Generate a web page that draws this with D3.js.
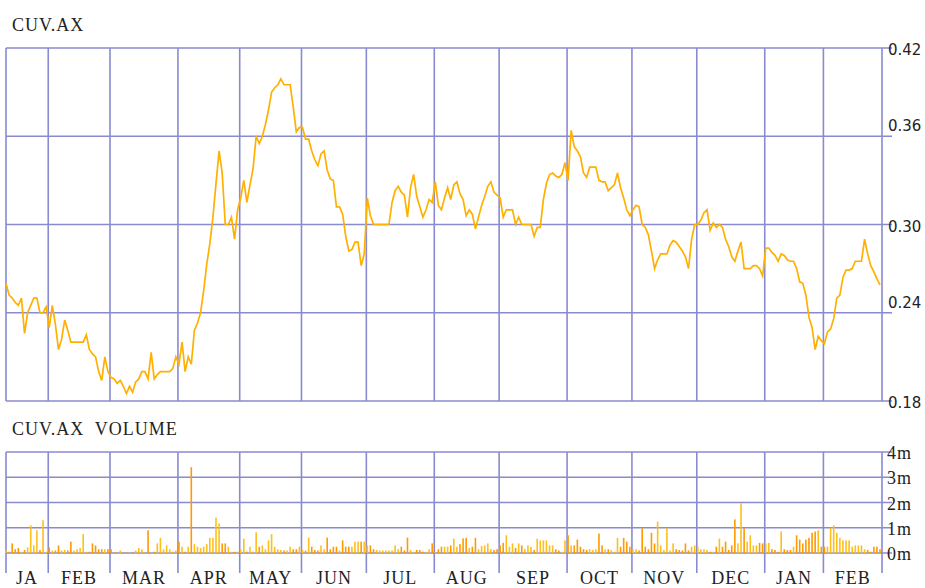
<!DOCTYPE html>
<html>
<head>
<meta charset="utf-8">
<script src="https://cdn.jsdelivr.net/npm/d3@7/dist/d3.min.js"></script>
<style>
body { margin: 0; background: #fff; }
</style>
</head>
<body>
<div id="chart"></div>
<script>
// Chart titles
var priceTitle = "CUV.AX";
var volumeTitle = "CUV.AX  VOLUME";

// Month labels along the bottom and the number of trading days in each
var monthLabels = ["JA", "FEB", "MAR", "APR", "MAY", "JUN", "JUL", "AUG", "SEP", "OCT", "NOV", "DEC", "JAN", "FEB"];
var monthDays = [14, 20, 22, 20, 20, 21, 22, 21, 22, 21, 21, 22, 19, 19];

// Right hand axis ticks
var priceTicks = [0.42, 0.36, 0.30, 0.24, 0.18];
var volumeTicks = [4, 3, 2, 1, 0];

// Daily close
var prices = [
  0.26, 0.252, 0.25, 0.247, 0.245, 0.25, 0.226, 0.24, 0.245, 0.25,
  0.25, 0.24, 0.24, 0.244, 0.23, 0.245, 0.232, 0.215, 0.222, 0.235,
  0.228, 0.22, 0.22, 0.22, 0.22, 0.22, 0.225, 0.215, 0.212, 0.21,
  0.2, 0.194, 0.21, 0.2, 0.196, 0.195, 0.192, 0.194, 0.19, 0.185,
  0.19, 0.186, 0.193, 0.195, 0.2, 0.2, 0.195, 0.213, 0.195, 0.198,
  0.2, 0.2, 0.2, 0.2, 0.202, 0.21, 0.205, 0.22, 0.2, 0.21,
  0.205, 0.228, 0.233, 0.24, 0.255, 0.273, 0.287, 0.305, 0.328, 0.35,
  0.335, 0.3, 0.3, 0.305, 0.29, 0.31, 0.318, 0.33, 0.315, 0.327,
  0.338, 0.36, 0.355, 0.36, 0.368, 0.378, 0.39, 0.393, 0.395, 0.399,
  0.395, 0.395, 0.395, 0.38, 0.363, 0.366, 0.366, 0.358, 0.358, 0.35,
  0.344, 0.34, 0.348, 0.35, 0.337, 0.331, 0.33, 0.312, 0.312, 0.307,
  0.292, 0.282, 0.283, 0.288, 0.288, 0.272, 0.28, 0.318, 0.306, 0.3,
  0.3, 0.3, 0.3, 0.3, 0.3, 0.315, 0.323, 0.326, 0.322, 0.32,
  0.305, 0.325, 0.334, 0.319, 0.312, 0.305, 0.31, 0.317, 0.315, 0.329,
  0.313, 0.31, 0.318, 0.325, 0.317, 0.327, 0.329, 0.321, 0.317, 0.306,
  0.31, 0.307, 0.297, 0.305, 0.313, 0.319, 0.326, 0.329, 0.322, 0.32,
  0.318, 0.305, 0.31, 0.31, 0.31, 0.3, 0.305, 0.3, 0.3, 0.3,
  0.3, 0.292, 0.298, 0.298, 0.317, 0.328, 0.334, 0.335, 0.333, 0.332,
  0.334, 0.342, 0.33, 0.364, 0.353, 0.35, 0.346, 0.335, 0.332, 0.339,
  0.339, 0.339, 0.33, 0.329, 0.329, 0.323, 0.325, 0.327, 0.335, 0.325,
  0.318, 0.31, 0.306, 0.31, 0.313, 0.312, 0.3, 0.298, 0.293, 0.282,
  0.27, 0.276, 0.28, 0.28, 0.28, 0.286, 0.289, 0.288, 0.285, 0.282,
  0.278, 0.27, 0.29, 0.3, 0.3, 0.303, 0.308, 0.31, 0.296, 0.301,
  0.298, 0.3, 0.298, 0.29, 0.285, 0.278, 0.275, 0.282, 0.288, 0.27,
  0.27, 0.27, 0.272, 0.272, 0.27, 0.265, 0.284, 0.284, 0.281, 0.279,
  0.275, 0.28, 0.279, 0.276, 0.275, 0.275, 0.27, 0.261, 0.26, 0.252,
  0.237, 0.23, 0.215, 0.224, 0.221, 0.219, 0.227, 0.229, 0.236, 0.25,
  0.252, 0.264, 0.269, 0.269, 0.27, 0.275, 0.275, 0.275, 0.29, 0.28,
  0.272, 0.268, 0.263, 0.259
];

// Daily volume in millions of shares
var volumes = [
  0.1, 0.05, 0.38, 0.15, 0.2, 0.05, 0.12, 0.22, 1.1, 0.3,
  0.9, 0.12, 1.3, 0.05, 0.22, 0.1, 0.1, 0.3, 0.1, 0.12,
  0.1, 0.45, 0.1, 0.15, 0.2, 0.75, 0.05, 0.05, 0.38, 0.3,
  0.15, 0.15, 0.15, 0.15, 0.15, 0.02, 0.02, 0.1, 0.02, 0.02,
  0.02, 0.02, 0.1, 0.2, 0.15, 0.02, 0.9, 0.02, 0.05, 0.38,
  0.6, 0.15, 0.3, 0.15, 0.05, 0.1, 0.45, 0.25, 0.05, 0.25,
  3.4, 0.35, 0.25, 0.2, 0.25, 0.35, 0.6, 0.6, 1.4, 1.17,
  0.38, 0.38, 0.25, 0.05, 0.05, 0.05, 0.15, 0.57, 0.05, 0.25,
  0.05, 0.82, 0.25, 0.3, 0.15, 0.5, 0.75, 0.25, 0.15, 0.12,
  0.1, 0.1, 0.25, 0.15, 0.15, 0.25, 0.12, 0.1, 0.61, 0.25,
  0.12, 0.1, 0.3, 0.15, 0.61, 0.15, 0.25, 0.25, 0.1, 0.5,
  0.25, 0.25, 0.25, 0.45, 0.45, 0.45, 0.45, 0.3, 0.3, 0.15,
  0.12, 0.1, 0.1, 0.1, 0.1, 0.1, 0.3, 0.15, 0.25, 0.1,
  0.61, 0.12, 0.05, 0.12, 0.12, 0.05, 0.05, 0.15, 0.38, 0.05,
  0.15, 0.25, 0.25, 0.25, 0.3, 0.57, 0.25, 0.35, 0.58, 0.6,
  0.2, 0.25, 0.6, 0.15, 0.28, 0.3, 0.38, 0.15, 0.12, 0.15,
  0.3, 0.4, 0.7, 0.25, 0.38, 0.2, 0.38, 0.3, 0.15, 0.3,
  0.25, 0.12, 0.57, 0.5, 0.5, 0.5, 0.3, 0.3, 0.15, 0.1,
  0.05, 0.5, 0.7, 0.3, 0.3, 0.53, 0.25, 0.15, 0.12, 0.15,
  0.12, 0.15, 0.77, 0.3, 0.15, 0.15, 0.12, 0.05, 0.6, 0.25,
  0.6, 0.45, 0.25, 0.15, 0.15, 0.1, 0.98, 0.25, 0.15, 0.8,
  0.38, 1.24, 0.3, 0.12, 1.0, 0.1, 0.38, 0.15, 0.12, 0.1,
  0.38, 0.1, 0.25, 0.3, 0.25, 0.15, 0.15, 0.12, 0.05, 0.05,
  0.25, 0.57, 0.25, 0.45, 0.12, 0.3, 1.33, 0.38, 1.97, 0.98,
  0.45, 0.7, 0.3, 0.3, 0.4, 0.38, 0.38, 0.4, 0.15, 0.12,
  0.05, 0.86, 0.15, 0.12, 0.12, 0.25, 0.7, 0.53, 0.38, 0.53,
  0.6, 0.8, 0.85, 0.9, 0.25, 0.25, 0.25, 1.0, 1.1, 0.8,
  0.6, 0.5, 0.5, 0.5, 0.25, 0.3, 0.3, 0.3, 0.15, 0.12,
  0.05, 0.25, 0.25, 0.15
];

var width = 925, height = 588;
var gridColor = "#8a8ad0";
var lineColor = "#ffb000";
var labelFont = "Liberation Serif, DejaVu Serif, serif";
var frameLeft = 6, frameRight = 882;

var svg = d3.select("#chart").append("svg")
    .attr("width", width)
    .attr("height", height);

// Scales
var x = d3.scaleLinear().domain([0, prices.length - 1]).range([6, 880]);
var y = d3.scaleLinear().domain([0.18, 0.42]).range([401, 48]);
var yv = d3.scaleLinear().domain([0, 4]).range([553, 452]);

// first trading day of each month -> gridline position
var monthStarts = [];
var acc = 0;
monthDays.forEach(function(d) { monthStarts.push(acc); acc += d; });
var gridX = monthStarts.slice(1).map(function(s) { return x(s) - 1; });
var bounds = [frameLeft].concat(gridX).concat([frameRight]);

function drawGrid(g, yScale, ticks, yTop, vBottom) {
    // horizontal lines, running a little past the right edge as ticks
    g.selectAll("line.h").data(ticks).enter().append("line")
        .attr("x1", frameLeft).attr("x2", frameRight + 10)
        .attr("y1", function(d) { return yScale(d); })
        .attr("y2", function(d) { return yScale(d); })
        .attr("stroke", gridColor).attr("stroke-width", 1.6);
    // vertical lines at month boundaries and the frame
    g.selectAll("line.v").data(bounds).enter().append("line")
        .attr("x1", function(d) { return d; })
        .attr("x2", function(d) { return d; })
        .attr("y1", yTop).attr("y2", vBottom)
        .attr("stroke", gridColor).attr("stroke-width", 1.6);
}

function serifText(sel) {
    return sel.style("font-family", labelFont)
        .style("font-size", "18px")
        .style("letter-spacing", "1px")
        .style("fill", "#222");
}

// ---- price panel ----
var pricePanel = svg.append("g");
drawGrid(pricePanel, y, priceTicks, 48, 401);

pricePanel.append("path")
    .datum(prices)
    .attr("fill", "none")
    .attr("stroke", lineColor)
    .attr("stroke-width", 1.7)
    .attr("d", d3.line()
        .x(function(d, i) { return x(i); })
        .y(function(d) { return y(d); }));

pricePanel.selectAll("text.tick").data(priceTicks).enter().append("text")
    .attr("x", 888)
    .attr("y", function(d, i) { return y(d) + (i % 2 ? -5 : 7); })
    .style("font-family", "DejaVu Sans, sans-serif")
    .style("font-size", "15px")
    .style("fill", "#222")
    .text(function(d) { return d3.format(".2f")(d); });

serifText(svg.append("text"))
    .attr("x", 12).attr("y", 31)
    .text(priceTitle);

// ---- volume panel ----
var volPanel = svg.append("g");
drawGrid(volPanel, yv, volumeTicks, 452, 573);

volPanel.selectAll("rect.bar").data(volumes).enter().append("rect")
    .attr("x", function(d, i) { return x(i) - 0.8; })
    .attr("width", 1.6)
    .attr("y", function(d) { return yv(d); })
    .attr("height", function(d) { return yv(0) - yv(d); })
    .attr("fill", function(d, i) {
        return (i > 0 && prices[i] < prices[i - 1]) ? "#ff9900" : "#ffbf1a";
    });

serifText(volPanel.selectAll("text.tick").data(volumeTicks).enter().append("text"))
    .attr("x", 887)
    .attr("y", function(d) { return yv(d) + 7; })
    .text(function(d) { return d + "m"; });

serifText(svg.append("text"))
    .attr("x", 12).attr("y", 435)
    .style("white-space", "pre")
    .attr("xml:space", "preserve")
    .text(volumeTitle);

// month labels centred in each month
serifText(svg.selectAll("text.month").data(monthLabels).enter().append("text"))
    .attr("x", function(d, i) { return (bounds[i] + bounds[i + 1]) / 2; })
    .attr("y", 584)
    .attr("text-anchor", "middle")
    .text(function(d) { return d; });
</script>
</body>
</html>
